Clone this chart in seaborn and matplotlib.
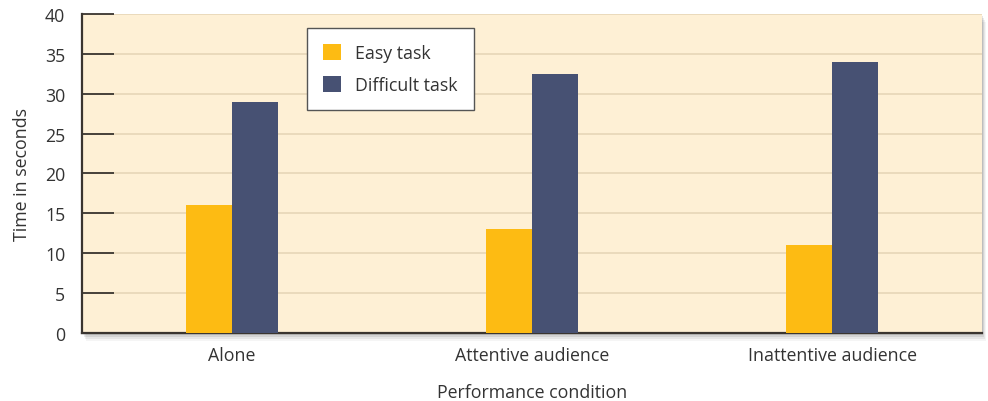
import matplotlib.pyplot as plt
import matplotlib.patches as mpatches
import pandas as pd
import seaborn as sns

CONDITIONS = ["Alone", "Attentive audience", "Inattentive audience"]
EASY = [16, 13, 11]
DIFFICULT = [29, 32.5, 34]
SERIES = ["Easy task", "Difficult task"]
COLORS = ["#FDBB13", "#475173"]


def main():
    rows = []
    for cond, e, d in zip(CONDITIONS, EASY, DIFFICULT):
        rows.append({"Condition": cond, "Task": SERIES[0], "Time": e})
        rows.append({"Condition": cond, "Task": SERIES[1], "Time": d})
    df = pd.DataFrame(rows)

    sns.set_style("white")
    plt.rcParams["font.family"] = ["Open Sans", "DejaVu Sans"]
    fs = 12.8

    fig = plt.figure(figsize=(9.88, 4.02), dpi=100)
    ax = fig.add_axes([0.083, 0.169, 0.911, 0.794])

    # soft drop shadow behind the plot area
    for i, a in enumerate([0.04, 0.06, 0.08, 0.10]):
        off = (4 - i) * 0.0025
        sh = mpatches.Rectangle((0.083 + off * 0.4, 0.169 - off * 2), 0.911, 0.794,
                                transform=fig.transFigure, facecolor="black",
                                alpha=a, edgecolor="none", zorder=-2)
        fig.patches.append(sh)

    ax.set_facecolor("#FEF0D5")
    sns.barplot(data=df, x="Condition", y="Time", hue="Task", order=CONDITIONS,
                hue_order=SERIES, palette=COLORS, width=0.307, saturation=1,
                linewidth=0, edgecolor="none", ax=ax, zorder=3)

    ax.set_ylim(0, 40)
    ax.set_xlim(-0.5, 2.5)
    ax.set_yticks(range(0, 41, 5))
    ax.yaxis.grid(True, color="#E6D6B8", linewidth=1.2, zorder=0)
    ax.set_axisbelow(True)

    for side in ["top", "right"]:
        ax.spines[side].set_visible(False)
    for side in ["left", "bottom"]:
        ax.spines[side].set_color("#3a3530")
        ax.spines[side].set_linewidth(1.6)

    ax.tick_params(axis="y", left=True, direction="in", length=23, width=1.3,
                   color="#3a3530", labelsize=fs, labelcolor="#333333", pad=12)
    ax.tick_params(axis="x", bottom=False, length=0, labelsize=fs,
                   labelcolor="#333333", pad=9)

    ax.set_xlabel("Performance condition", fontsize=fs, color="#333333", labelpad=14)
    ax.set_ylabel("Time in seconds", fontsize=fs, color="#333333", labelpad=10)

    leg = ax.legend(title=None, loc="upper left", bbox_to_anchor=(0.25, 0.955),
                    frameon=True, fancybox=False, fontsize=fs, handlelength=1.0,
                    handleheight=1.0, borderpad=0.9, labelspacing=0.75,
                    handletextpad=0.8, borderaxespad=0)
    leg.get_frame().set_edgecolor("#555555")
    leg.get_frame().set_linewidth(1.0)
    leg.get_frame().set_facecolor("white")
    leg.get_frame().set_alpha(1)
    for t in leg.get_texts():
        t.set_color("#333333")

    fig.savefig("out.png", dpi=100)
    plt.close(fig)


if __name__ == "__main__":
    main()
